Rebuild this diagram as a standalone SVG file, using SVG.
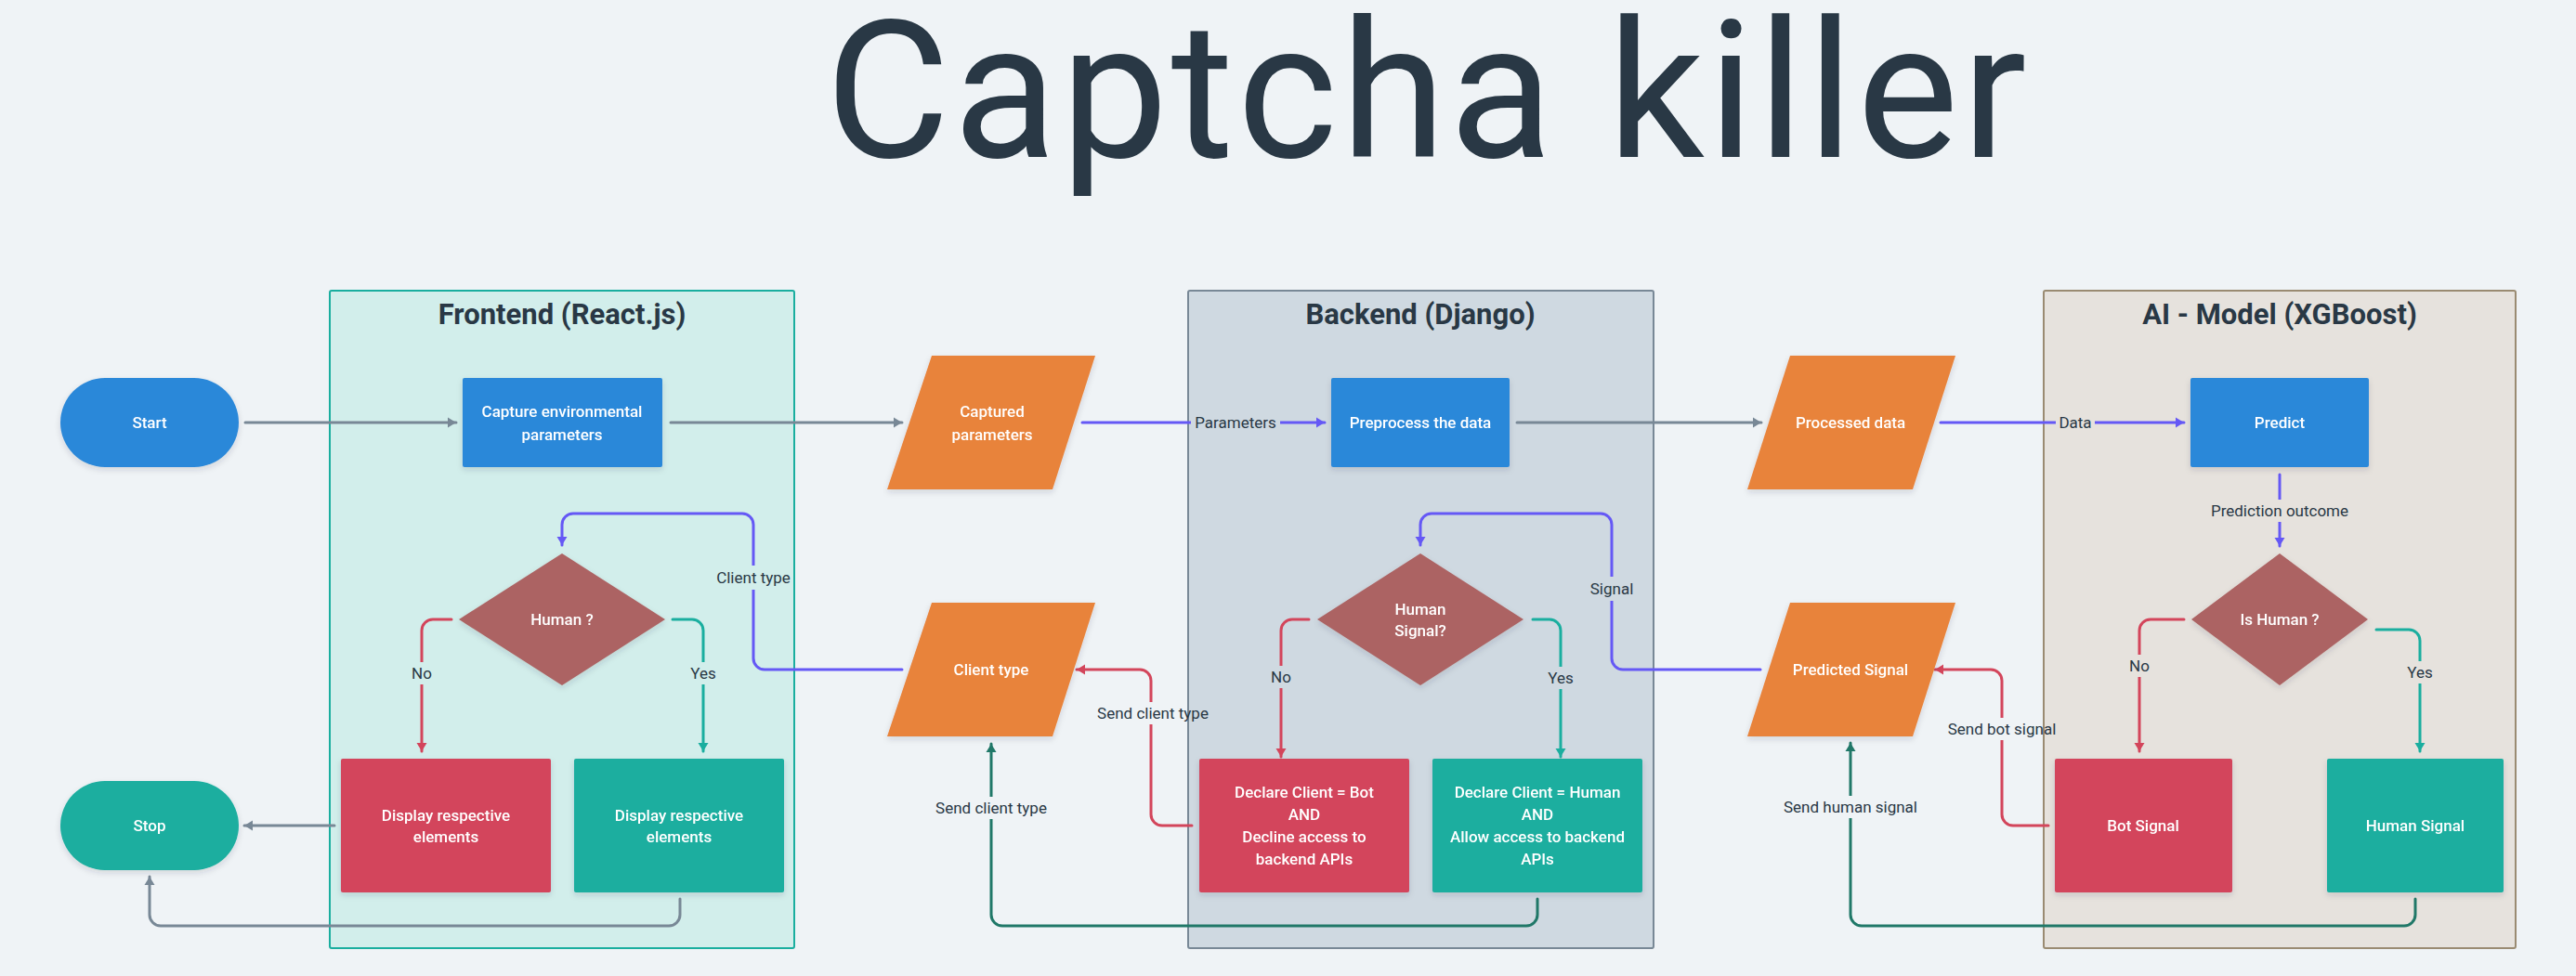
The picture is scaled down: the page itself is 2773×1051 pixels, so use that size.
<svg xmlns="http://www.w3.org/2000/svg" width="2773" height="1051" viewBox="0 0 2773 1051">
<defs>
<style>
.title{font-family:Roboto,"Liberation Sans",sans-serif;font-size:206px;fill:#293845;text-anchor:middle}
.lanet{font-family:Roboto,"Liberation Sans",sans-serif;font-size:31px;font-weight:700;fill:#293845;text-anchor:middle}
.nt{font-family:Roboto,"Liberation Sans",sans-serif;font-size:17px;font-weight:500;fill:#ffffff;text-anchor:middle;dominant-baseline:central}
.lbl{font-family:Roboto,"Liberation Sans",sans-serif;font-size:17px;fill:#293845;text-anchor:middle;dominant-baseline:central}
.c{fill:none;stroke-width:3;stroke-linecap:round;stroke-linejoin:round}
.gray{stroke:#788896}
.pur{stroke:#6558f5}
.red{stroke:#d3455b}
.teal{stroke:#1aae9f}
.dg{stroke:#207868}
.blue{fill:#2c88d9}
.orange{fill:#e8833a}
.redf{fill:#d3455b}
.tealf{fill:#1aae9f}
.dia{fill:#ac6363}
</style>
<filter id="sh" x="-20%" y="-20%" width="140%" height="150%">
<feDropShadow dx="0" dy="3" stdDeviation="3" flood-color="#293845" flood-opacity="0.15"/>
</filter>
<marker id="ag" markerUnits="userSpaceOnUse" markerWidth="12" markerHeight="12" refX="9" refY="6" orient="auto"><path d="M0,0.5 L9,6 L0,11.5 Z" fill="#788896"/></marker>
<marker id="ap" markerUnits="userSpaceOnUse" markerWidth="12" markerHeight="12" refX="9" refY="6" orient="auto"><path d="M0,0.5 L9,6 L0,11.5 Z" fill="#6558f5"/></marker>
<marker id="ar" markerUnits="userSpaceOnUse" markerWidth="12" markerHeight="12" refX="9" refY="6" orient="auto"><path d="M0,0.5 L9,6 L0,11.5 Z" fill="#d3455b"/></marker>
<marker id="at" markerUnits="userSpaceOnUse" markerWidth="12" markerHeight="12" refX="9" refY="6" orient="auto"><path d="M0,0.5 L9,6 L0,11.5 Z" fill="#1aae9f"/></marker>
<marker id="ad" markerUnits="userSpaceOnUse" markerWidth="12" markerHeight="12" refX="9" refY="6" orient="auto"><path d="M0,0.5 L9,6 L0,11.5 Z" fill="#207868"/></marker>
<mask id="lm" maskUnits="userSpaceOnUse" x="0" y="0" width="2773" height="1051">
<rect x="0" y="0" width="2773" height="1051" fill="#fff"/>
<rect x="1282" y="440" width="96" height="30" fill="#000"/>
<rect x="2213" y="440" width="42" height="30" fill="#000"/>
<rect x="2375" y="538" width="158" height="24" fill="#000"/>
<rect x="766" y="609" width="90" height="26" fill="#000"/>
<rect x="1710" y="621" width="50" height="26" fill="#000"/>
<rect x="440" y="713" width="28" height="24" fill="#000"/>
<rect x="1365" y="717" width="28" height="24" fill="#000"/>
<rect x="2289" y="705" width="28" height="24" fill="#000"/>
<rect x="740" y="713" width="34" height="24" fill="#000"/>
<rect x="1663" y="718" width="34" height="24" fill="#000"/>
<rect x="2588" y="712" width="34" height="24" fill="#000"/>
<rect x="1179" y="756" width="125" height="24" fill="#000"/>
<rect x="2096" y="773" width="118" height="24" fill="#000"/>
<rect x="1004" y="858" width="126" height="24" fill="#000"/>
<rect x="1917" y="857" width="150" height="24" fill="#000"/>
</mask>
</defs>
<rect x="0" y="0" width="2773" height="1051" fill="#eff3f6"/>
<text class="title" x="1535" y="169" textLength="1293" lengthAdjust="spacing">Captcha killer</text>

<g id="lane-frontend">
<rect x="355" y="313" width="500" height="708" rx="2" fill="#d2eeeb" stroke="#1aae9f" stroke-width="2"/>
<text class="lanet" x="605" y="349">Frontend (React.js)</text>
</g>
<g id="lane-backend">
<rect x="1279" y="313" width="501" height="708" rx="2" fill="#cfd9e1" stroke="#788896" stroke-width="2"/>
<text class="lanet" x="1529" y="349">Backend (Django)</text>
</g>
<g id="lane-ai">
<rect x="2200" y="313" width="508" height="708" rx="2" fill="#e6e2dd" stroke="#9a8b72" stroke-width="2"/>
<text class="lanet" x="2454" y="349">AI - Model (XGBoost)</text>
</g>

<g id="connectors" mask="url(#lm)">
<path class="c gray" d="M264 455 H491" marker-end="url(#ag)"/>
<path class="c gray" d="M722 455 H971" marker-end="url(#ag)"/>
<path class="c gray" d="M1633 455 H1896" marker-end="url(#ag)"/>
<path class="c gray" d="M360 889 H263" marker-end="url(#ag)"/>
<path class="c gray" d="M732 968 V985 A12 12 0 0 1 720 997 H173 A12 12 0 0 1 161 985 V944" marker-end="url(#ag)"/>
<path class="c pur" d="M1165 455 H1426" marker-end="url(#ap)"/>
<path class="c pur" d="M2089 455 H2351" marker-end="url(#ap)"/>
<path class="c pur" d="M2454 511 V588" marker-end="url(#ap)"/>
<path class="c pur" d="M971 721 H823 A12 12 0 0 1 811 709 V565 A12 12 0 0 0 799 553 H617 A12 12 0 0 0 605 565 V587" marker-end="url(#ap)"/>
<path class="c pur" d="M1895 721 H1747 A12 12 0 0 1 1735 709 V565 A12 12 0 0 0 1723 553 H1541 A12 12 0 0 0 1529 565 V587" marker-end="url(#ap)"/>
<path class="c red" d="M486 667 H466 A12 12 0 0 0 454 679 V809" marker-end="url(#ar)"/>
<path class="c red" d="M1409 667 H1391 A12 12 0 0 0 1379 679 V815" marker-end="url(#ar)"/>
<path class="c red" d="M2351 667 H2315 A12 12 0 0 0 2303 679 V809" marker-end="url(#ar)"/>
<path class="c red" d="M1283 889 H1251 A12 12 0 0 1 1239 877 V733 A12 12 0 0 0 1227 721 H1159" marker-end="url(#ar)"/>
<path class="c red" d="M2205 889 H2167 A12 12 0 0 1 2155 877 V733 A12 12 0 0 0 2143 721 H2083" marker-end="url(#ar)"/>
<path class="c teal" d="M724 667 H745 A12 12 0 0 1 757 679 V809" marker-end="url(#at)"/>
<path class="c teal" d="M1650 667 H1668 A12 12 0 0 1 1680 679 V815" marker-end="url(#at)"/>
<path class="c teal" d="M2558 678 H2593 A12 12 0 0 1 2605 690 V809" marker-end="url(#at)"/>
<path class="c dg" d="M1655 968 V985 A12 12 0 0 1 1643 997 H1079 A12 12 0 0 1 1067 985 V801" marker-end="url(#ad)"/>
<path class="c dg" d="M2600 968 V985 A12 12 0 0 1 2588 997 H2004 A12 12 0 0 1 1992 985 V800" marker-end="url(#ad)"/>
</g>
<g id="connector-labels">
<text class="lbl" x="1330" y="455">Parameters</text>
<text class="lbl" x="2234" y="455">Data</text>
<text class="lbl" x="2454" y="550">Prediction outcome</text>
<text class="lbl" x="811" y="622">Client type</text>
<text class="lbl" x="1735" y="634">Signal</text>
<text class="lbl" x="454" y="725">No</text>
<text class="lbl" x="1379" y="729">No</text>
<text class="lbl" x="2303" y="717">No</text>
<text class="lbl" x="757" y="725">Yes</text>
<text class="lbl" x="1680" y="730">Yes</text>
<text class="lbl" x="2605" y="724">Yes</text>
<text class="lbl" x="1241" y="768">Send client type</text>
<text class="lbl" x="2155" y="785">Send bot signal</text>
<text class="lbl" x="1067" y="870">Send client type</text>
<text class="lbl" x="1992" y="869">Send human signal</text>
</g>

<g id="start" filter="url(#sh)">
<rect class="blue" x="65" y="407" width="192" height="96" rx="48" ry="48"/>
<text class="nt" x="161" y="455">Start</text>
</g>
<g id="capture" filter="url(#sh)">
<rect class="blue" x="498" y="407" width="215" height="96" rx="2"/>
<text class="nt" x="605" y="443">Capture environmental</text>
<text class="nt" x="605" y="468">parameters</text>
</g>
<g id="captured-parameters" filter="url(#sh)">
<polygon class="orange" points="1003,383 1179,383 1133,527 955,527"/>
<text class="nt" x="1068" y="443">Captured</text>
<text class="nt" x="1068" y="468">parameters</text>
</g>
<g id="preprocess" filter="url(#sh)">
<rect class="blue" x="1433" y="407" width="192" height="96" rx="2"/>
<text class="nt" x="1529" y="455">Preprocess the data</text>
</g>
<g id="processed-data" filter="url(#sh)">
<polygon class="orange" points="1927,383 2105,383 2059,527 1881,527"/>
<text class="nt" x="1992" y="455">Processed data</text>
</g>
<g id="predict" filter="url(#sh)">
<rect class="blue" x="2358" y="407" width="192" height="96" rx="2"/>
<text class="nt" x="2454" y="455">Predict</text>
</g>
<g id="human-decision" filter="url(#sh)">
<polygon class="dia" points="605,596 716,667 605,738 494,667"/>
<text class="nt" x="605" y="667">Human ?</text>
</g>
<g id="human-signal-decision" filter="url(#sh)">
<polygon class="dia" points="1529,596 1640,667 1529,738 1418,667"/>
<text class="nt" x="1529" y="656">Human</text>
<text class="nt" x="1529" y="679">Signal?</text>
</g>
<g id="is-human-decision" filter="url(#sh)">
<polygon class="dia" points="2454,596 2549,667 2454,738 2359,667"/>
<text class="nt" x="2454" y="667">Is Human ?</text>
</g>
<g id="client-type" filter="url(#sh)">
<polygon class="orange" points="1003,649 1179,649 1133,793 955,793"/>
<text class="nt" x="1067" y="721">Client type</text>
</g>
<g id="predicted-signal" filter="url(#sh)">
<polygon class="orange" points="1927,649 2105,649 2059,793 1881,793"/>
<text class="nt" x="1992" y="721">Predicted Signal</text>
</g>
<g id="display-bot" filter="url(#sh)">
<rect class="redf" x="367" y="817" width="226" height="144" rx="2"/>
<text class="nt" x="480" y="878">Display respective</text>
<text class="nt" x="480" y="901">elements</text>
</g>
<g id="display-human" filter="url(#sh)">
<rect class="tealf" x="618" y="817" width="226" height="144" rx="2"/>
<text class="nt" x="731" y="878">Display respective</text>
<text class="nt" x="731" y="901">elements</text>
</g>
<g id="stop" filter="url(#sh)">
<rect class="tealf" x="65" y="841" width="192" height="96" rx="48" ry="48"/>
<text class="nt" x="161" y="889">Stop</text>
</g>
<g id="declare-bot" filter="url(#sh)">
<rect class="redf" x="1291" y="817" width="226" height="144" rx="2"/>
<text class="nt" x="1404" y="853">Declare Client = Bot</text>
<text class="nt" x="1404" y="877">AND</text>
<text class="nt" x="1404" y="901">Decline access to</text>
<text class="nt" x="1404" y="925">backend APIs</text>
</g>
<g id="declare-human" filter="url(#sh)">
<rect class="tealf" x="1542" y="817" width="226" height="144" rx="2"/>
<text class="nt" x="1655" y="853">Declare Client = Human</text>
<text class="nt" x="1655" y="877">AND</text>
<text class="nt" x="1655" y="901">Allow access to  backend</text>
<text class="nt" x="1655" y="925">APIs</text>
</g>
<g id="bot-signal" filter="url(#sh)">
<rect class="redf" x="2212" y="817" width="191" height="144" rx="2"/>
<text class="nt" x="2307" y="889">Bot Signal</text>
</g>
<g id="human-signal" filter="url(#sh)">
<rect class="tealf" x="2505" y="817" width="190" height="144" rx="2"/>
<text class="nt" x="2600" y="889">Human Signal</text>
</g>
</svg>
